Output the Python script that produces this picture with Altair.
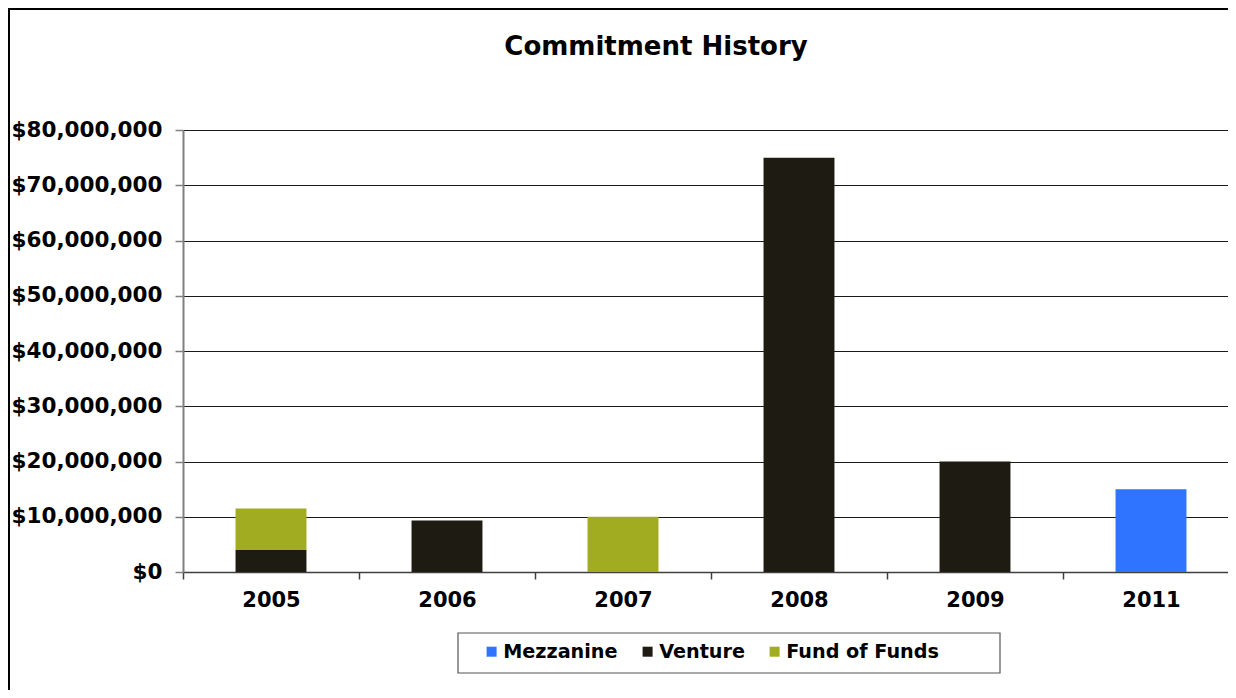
import altair as alt
import pandas as pd

years = ["2005", "2006", "2007", "2008", "2009", "2011"]
series_names = ["Mezzanine", "Venture", "Fund of Funds"]
series_colors = ["#2F74FF", "#1E1B13", "#A1AC20"]
stack_rank = {"Venture": 0, "Fund of Funds": 1, "Mezzanine": 2}

mezzanine = [0, 0, 0, 0, 0, 15000000]
venture = [4000000, 9300000, 0, 75000000, 20000000, 0]
fund_of_funds = [7500000, 0, 10000000, 0, 0, 0]

y_ticks = [0, 10000000, 20000000, 30000000, 40000000, 50000000, 60000000, 70000000, 80000000]
title_text = "Commitment History"

rows = []
for name, vals in zip(series_names, [mezzanine, venture, fund_of_funds]):
    for yr, v in zip(years, vals):
        if v > 0:
            rows.append({"Year": yr, "Series": name, "Amount": v, "rank": stack_rank[name]})
df = pd.DataFrame(rows)

FONT = "DejaVu Sans"

bars = alt.Chart(df).mark_bar(width=alt.RelativeBandSize(0.403)).encode(
    x=alt.X("Year:N", sort=years,
            scale=alt.Scale(domain=years, paddingInner=0, paddingOuter=0, range=[0, 1056]),
            axis=alt.Axis(title=None, labelAngle=0, tickBand="extent", grid=False,
                          labelFontSize=21, labelFont=FONT, labelFontWeight="bold",
                          labelColor="#000000", domainColor="#404040", tickColor="#404040",
                          domainWidth=1.5, tickWidth=1.5, tickSize=7, labelPadding=10)),
    y=alt.Y("Amount:Q", stack="zero",
            scale=alt.Scale(domain=[0, 80000000], nice=False),
            axis=alt.Axis(title=None, values=y_ticks, format="$,.0f",
                          labelFontSize=21.5, labelFont=FONT, labelFontWeight="bold",
                          labelColor="#000000", domainColor="#808080", domainWidth=2,
                          tickColor="#808080", tickWidth=1.5, tickSize=8, labelPadding=13,
                          grid=True, gridColor="#1a1a1a", gridWidth=1)),
    color=alt.Color("Series:N",
                    scale=alt.Scale(domain=series_names, range=series_colors),
                    legend=alt.Legend(title=None, orient="none", legendX=299, legendY=512,
                                      direction="horizontal", columns=3,
                                      symbolType="square", symbolSize=100, symbolStrokeWidth=0,
                                      labelFontSize=19.2, labelFont=FONT, labelFontWeight="bold",
                                      labelColor="#000000", labelOffset=2, columnPadding=20,
                                      padding=0)),
    order=alt.Order("rank:Q", sort="ascending"),
)

title = alt.Chart(pd.DataFrame({"t": [title_text]})).mark_text(
    font=FONT, fontSize=26, fontWeight="bold", color="#000000",
    align="center", baseline="alphabetic"
).encode(x=alt.value(473), y=alt.value(-75), text="t:N")

legend_box = alt.Chart(pd.DataFrame({"k": [0]})).mark_rect(
    fillOpacity=0, stroke="#555555", strokeWidth=1.2
).encode(x=alt.value(275), x2=alt.value(817), y=alt.value(503), y2=alt.value(543))

outer_box = alt.Chart(pd.DataFrame({"k": [0]})).mark_rect(
    fillOpacity=0, stroke="#000000", strokeWidth=2
).encode(x=alt.value(-174), x2=alt.value(1400), y=alt.value(-121), y2=alt.value(800))

chart = alt.layer(bars, title, legend_box, outer_box).properties(
    width=1045,
    height=442,
    autosize=alt.AutoSizeParams(type="none"),
    padding={"left": 175, "top": 122, "right": 0, "bottom": 118},
).configure_view(stroke=None).configure(background="#ffffff")

chart.save("out.html", embed_options={"renderer": "svg", "actions": False})
